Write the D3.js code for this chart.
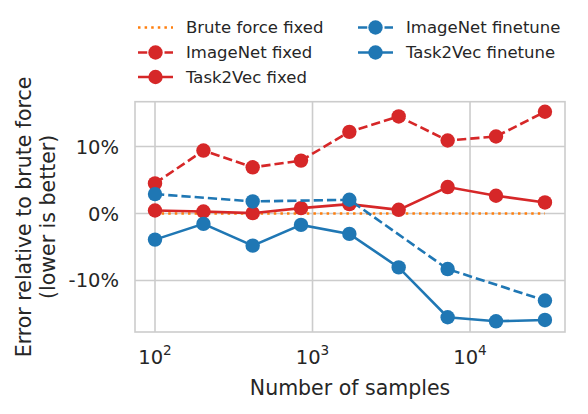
<!DOCTYPE html>
<html>
<head>
<meta charset="utf-8">
<script src="https://cdn.jsdelivr.net/npm/d3@7"></script>
<style>
  body { margin: 0; background: #fff; }
  text { font-family: "DejaVu Sans", sans-serif; fill: #262626; }
</style>
</head>
<body>
<svg id="chart"></svg>
<script>
const svgWidth = 588;
const svgHeight = 414;

// number of samples (log axis)
const samples = [100, 203, 417, 845, 1714, 3524, 7211, 14620, 29900];
const samplesFinetuneIN = [100, 417, 1714, 7211, 29900];

// error relative to brute force, in %
const bruteFixed = [0, 0, 0, 0, 0, 0, 0, 0, 0];
const imagenetFixed = [4.5, 9.4, 6.9, 7.9, 12.2, 14.5, 10.9, 11.5, 15.2];
const task2vecFixed = [0.45, 0.3, 0.05, 0.8, 1.4, 0.55, 3.95, 2.65, 1.65];
const imagenetFinetune = [2.9, 1.8, 2.05, -8.3, -13.0];
const task2vecFinetune = [-3.9, -1.55, -4.8, -1.7, -3.05, -8.05, -15.5, -16.1, -15.9];

const yTicks = [-10, 0, 10];
const xTicks = [2, 3, 4];

const series = [
  {name: "Brute force fixed", xs: samples, ys: bruteFixed, color: "#ff7f0e", dash: "2.5,4.1", marker: false, cap: "butt"},
  {name: "ImageNet fixed", xs: samples, ys: imagenetFixed, color: "#d62728", dash: "9.25,4", marker: true},
  {name: "Task2Vec fixed", xs: samples, ys: task2vecFixed, color: "#d62728", dash: null, marker: true},
  {name: "ImageNet finetune", xs: samplesFinetuneIN, ys: imagenetFinetune, color: "#1f77b4", dash: "9.25,4", marker: true},
  {name: "Task2Vec finetune", xs: samples, ys: task2vecFinetune, color: "#1f77b4", dash: null, marker: true}
];

const plot = {left: 135, right: 565, top: 101.7, bottom: 332};

const svg = d3.select("#chart")
    .attr("width", svgWidth)
    .attr("height", svgHeight);

const x = d3.scaleLog()
    .domain([Math.pow(10, 1.873), Math.pow(10, 4.603)])
    .range([plot.left, plot.right]);
const y = d3.scaleLinear()
    .domain([-17.7, 16.7])
    .range([plot.bottom, plot.top]);

// grid
svg.append("g").selectAll("line.gx")
    .data(xTicks)
    .join("line")
    .attr("x1", d => x(Math.pow(10, d)))
    .attr("x2", d => x(Math.pow(10, d)))
    .attr("y1", plot.top)
    .attr("y2", plot.bottom)
    .attr("stroke", "#cccccc")
    .attr("stroke-width", 1.6);
svg.append("g").selectAll("line.gy")
    .data(yTicks)
    .join("line")
    .attr("x1", plot.left)
    .attr("x2", plot.right)
    .attr("y1", d => y(d))
    .attr("y2", d => y(d))
    .attr("stroke", "#cccccc")
    .attr("stroke-width", 1.6);

svg.append("rect")
    .attr("x", plot.left)
    .attr("y", plot.top)
    .attr("width", plot.right - plot.left)
    .attr("height", plot.bottom - plot.top)
    .attr("fill", "none")
    .attr("stroke", "#cccccc")
    .attr("stroke-width", 1.6);

// tick labels
svg.append("g").selectAll("text")
    .data(yTicks)
    .join("text")
    .attr("x", 119)
    .attr("y", d => y(d))
    .attr("dy", "0.36em")
    .attr("text-anchor", "end")
    .style("font-size", "19.5px")
    .text(d => d + "%");

const xLabels = svg.append("g").selectAll("text")
    .data(xTicks)
    .join("text")
    .attr("x", d => x(Math.pow(10, d)))
    .attr("y", 364)
    .attr("text-anchor", "middle")
    .style("font-size", "19.5px");
xLabels.append("tspan").text("10");
xLabels.append("tspan")
    .attr("dy", -9)
    .style("font-size", "13.6px")
    .text(d => d);

svg.append("text")
    .attr("x", (plot.left + plot.right) / 2)
    .attr("y", 395)
    .attr("text-anchor", "middle")
    .style("font-size", "20.5px")
    .text("Number of samples");

const yLab = svg.append("text")
    .attr("transform", `translate(31,${(plot.top + plot.bottom) / 2}) rotate(-90)`)
    .attr("text-anchor", "middle")
    .style("font-size", "20.5px");
yLab.append("tspan").attr("x", 0).attr("y", 0).text("Error relative to brute force");
yLab.append("tspan").attr("x", 0).attr("y", 23.5).text("(lower is better)");

// lines
const line = d3.line()
    .x(d => x(d[0]))
    .y(d => y(d[1]));

series.forEach(s => {
    const pts = s.xs.map((v, i) => [v, s.ys[i]]);
    const g = svg.append("g");
    g.append("path")
        .datum(pts)
        .attr("d", line)
        .attr("fill", "none")
        .attr("stroke", s.color)
        .attr("stroke-width", 2.6)
        .attr("stroke-dasharray", s.dash)
        .attr("stroke-linecap", s.cap || "butt");
    if (s.marker) {
        g.selectAll("circle")
            .data(pts)
            .join("circle")
            .attr("cx", d => x(d[0]))
            .attr("cy", d => y(d[1]))
            .attr("r", 7.2)
            .attr("fill", s.color);
    }
});

// legend
const legendPos = [
    {x: 138, y: 27.5}, {x: 138, y: 52.5}, {x: 138, y: 77},
    {x: 358, y: 27.5}, {x: 358, y: 52.5}
];
const legend = svg.append("g").selectAll("g")
    .data(series)
    .join("g")
    .attr("transform", (d, i) => `translate(${legendPos[i].x},${legendPos[i].y})`);
legend.append("line")
    .attr("x1", 0)
    .attr("x2", 35)
    .attr("stroke", d => d.color)
    .attr("stroke-width", 2.6)
    .attr("stroke-dasharray", d => d.dash);
legend.filter(d => d.marker).append("circle")
    .attr("cx", 17.5)
    .attr("r", 7.2)
    .attr("fill", d => d.color);
legend.append("text")
    .attr("x", 48)
    .attr("dy", "0.36em")
    .style("font-size", "16.5px")
    .text(d => d.name);
</script>
</body>
</html>
